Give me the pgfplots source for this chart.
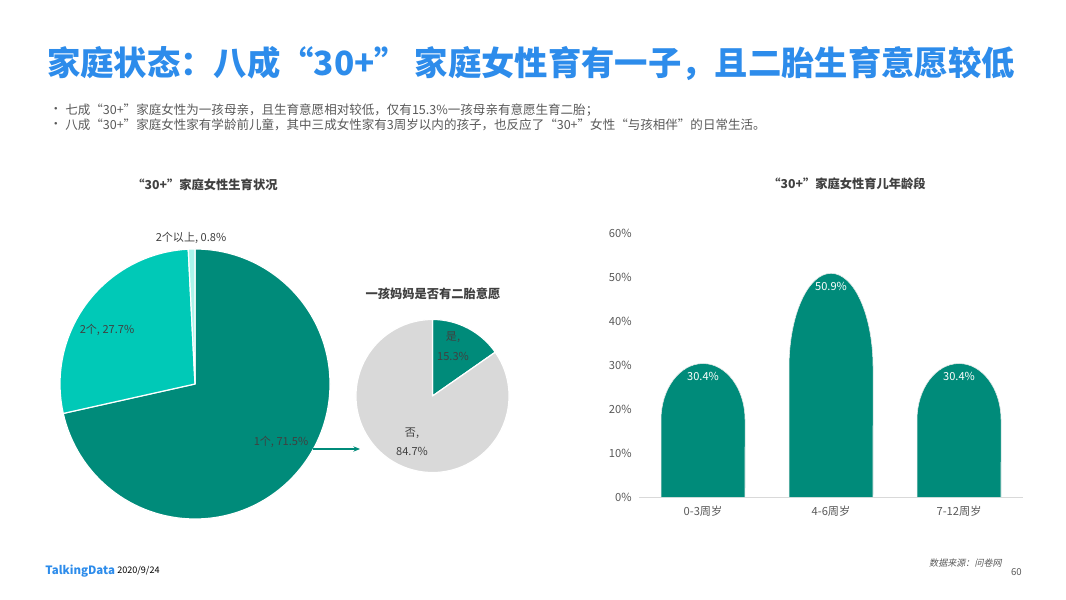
\documentclass[border=0pt]{standalone}
\usepackage{pgfplots}
\pgfplotsset{compat=1.18}
\usepackage{pgfplotstable}
\usepackage{fontspec}
\setmainfont{Noto Sans CJK SC}
\newfontfamily\cjkslant{Noto Sans CJK SC}[FakeSlant=0.2]
\usetikzlibrary{arrows.meta}
\definecolor{titleblue}{RGB}{45,140,235}
\definecolor{tealA}{RGB}{0,139,122}
\definecolor{tealB}{RGB}{0,201,183}
\definecolor{aquaC}{RGB}{170,245,235}
\definecolor{grayD}{RGB}{217,217,217}
\definecolor{txtgray}{RGB}{89,89,89}
\definecolor{dgray}{RGB}{64,64,64}
\definecolor{axgray}{RGB}{217,217,217}
\colorlet{pc1}{tealA}
\colorlet{pc2}{tealB}
\colorlet{pc3}{aquaC}
\colorlet{pc4}{grayD}

% pie tables: s = cumulative start (%), v = share (%), c = colour index
\pgfplotstableread{
s v c
0 71.5 1
71.5 27.7 2
99.2 0.8 3
}\mainpie
\pgfplotstableread{
s v c
0 15.3 1
15.3 84.7 4
}\smallpie
\pgfplotstableread{
x y
0 30.4
1 50.9
2 30.4
}\agedata

% draw pie slices of table #1 with radius #2 (pt) and rows 0..#3
\newcommand\drawpie[3]{%
  \pgfplotsforeachungrouped \i in {0,...,#3}{%
    \pgfplotstablegetelem{\i}{s}\of#1\let\pS\pgfplotsretval
    \pgfplotstablegetelem{\i}{v}\of#1\let\pV\pgfplotsretval
    \pgfplotstablegetelem{\i}{c}\of#1\let\pC\pgfplotsretval
    \pgfmathsetmacro\pA{90-3.6*\pS}%
    \pgfmathsetmacro\pD{-3.6*\pV}%
    \edef\temp{\noexpand\fill[fill=pc\pC, draw=white, line width=0.9pt, line join=round]
      (axis cs:0,0) -- ++(\pA:#2pt) arc[start angle=\pA, delta angle=\pD, radius=#2pt] -- cycle;}%
    \temp
  }%
}

\pgfplotsset{
  pieaxis/.style={
    hide axis, clip=false, x=0.75pt, y=0.75pt,
    xmin=-1, xmax=1, ymin=-1, ymax=1, anchor=center,
  },
}

\begin{document}
\begin{tikzpicture}[x=0.75pt, y=0.75pt]
\fill[white] (0,0) rectangle (1066,599);

% title
\node[anchor=west, inner sep=0, text=titleblue, font=\fontsize{25pt}{28pt}\selectfont\bfseries]
  at (47,535) {家庭状态：八成“30+”\hspace{0.2em}家庭女性育有一子，且二胎生育意愿较低};
% bullets
\node[anchor=center, inner sep=0, text=txtgray, font=\fontsize{9.4pt}{11pt}\selectfont] at (56,489) {•};
\node[anchor=west, inner sep=0, text=txtgray, font=\fontsize{9.4pt}{11pt}\selectfont] at (65,489)
  {七成“30+”家庭女性为一孩母亲，且生育意愿相对较低，仅有15.3\%一孩母亲有意愿生育二胎；};
\node[anchor=center, inner sep=0, text=txtgray, font=\fontsize{9.4pt}{11pt}\selectfont] at (56,474) {•};
\node[anchor=west, inner sep=0, text=txtgray, font=\fontsize{9.4pt}{11pt}\selectfont] at (65,474)
  {八成“30+”家庭女性家有学龄前儿童，其中三成女性家有3周岁以内的孩子，也反应了“30+”女性“与孩相伴”的日常生活。};

% chart titles
\node[text=dgray, font=\fontsize{9.2pt}{11pt}\selectfont\bfseries] at (205,414) {“30+”家庭女性生育状况};
\node[text=dgray, font=\fontsize{9.2pt}{11pt}\selectfont\bfseries] at (433,305) {一孩妈妈是否有二胎意愿};
\node[text=dgray, font=\fontsize{9.2pt}{11pt}\selectfont\bfseries] at (847,415) {“30+”家庭女性育儿年龄段};

% main pie
\begin{axis}[pieaxis, at={(146.25pt,161.25pt)}]
\drawpie{\mainpie}{101.25}{2}
\end{axis}
% small pie
\begin{axis}[pieaxis, at={(324.375pt,152.25pt)}]
\drawpie{\smallpie}{57.4}{1}
\end{axis}

% pie labels
\begin{scope}[font=\fontsize{8.3pt}{10pt}\selectfont, text=dgray]
\node at (191,361) {2个以上, 0.8\%};
\node at (107,269) {2个, 27.7\%};
\node at (281,157) {1个, 71.5\%};
\node at (453,262) {是,};
\node at (453,243) {15.3\%};
\node at (412,166) {否,};
\node at (412,148) {84.7\%};
\end{scope}
\draw[tealA, line width=0.8pt, -{Stealth[length=5pt,width=4pt]}] (313,150) -- (360,150);

% bar chart
\begin{axis}[
  at={(479.25pt,76.275pt)}, anchor=south west,
  x=96pt, y=3.3pt,
  xmin=-0.5, xmax=2.5, ymin=0, ymax=60,
  clip=false,
  separate axis lines,
  axis x line*=bottom, axis y line*=left,
  x axis line style={draw=axgray, line width=0.8pt, -},
  y axis line style={draw=none},
  major tick length=0pt,
  xtick={0,1,2}, xticklabels={0-3周岁,4-6周岁,7-12周岁},
  ytick={0,10,20,30,40,50,60},
  yticklabel={\pgfmathprintnumber{\tick}\%},
  /pgf/number format/assume math mode=true,
  tick label style={font=\fontsize{8.4pt}{10pt}\selectfont, text=txtgray},
  xticklabel style={yshift=-3pt},
  yticklabel style={xshift=-2pt},
]
% arch-topped bars from the table
\pgfplotsforeachungrouped \i in {0,1,2}{%
  \pgfplotstablegetelem{\i}{x}\of\agedata\let\bX\pgfplotsretval
  \pgfplotstablegetelem{\i}{y}\of\agedata\let\bY\pgfplotsretval
  \pgfmathsetmacro\bL{\bX-0.328}%
  \pgfmathsetmacro\bR{\bX+0.328}%
  \pgfmathsetmacro\bS{0.58*\bY}%
  \pgfmathsetmacro\bE{0.42*\bY*3.3}%
  \edef\temp{\noexpand\fill[fill=tealA, draw=white!85!gray, line width=0.4pt]
    (axis cs:\bL,0) -- (axis cs:\bL,\bS) arc[start angle=180, end angle=0, x radius=31.5pt, y radius=\bE pt]
    -- (axis cs:\bR,0) -- cycle;}%
  \temp
}
\addplot[
  only marks, mark=*, mark size=0pt,
  mark options={draw=none, fill=none},
  point meta=explicit,
  nodes near coords={\pgfmathprintnumber[fixed,fixed zerofill,precision=1]{\pgfplotspointmeta}\%},
  every node near coord/.append style={anchor=center, yshift=-9.75pt, text=white,
    font=\fontsize{8.3pt}{10pt}\selectfont},
] table[meta=y] {\agedata};
\end{axis}

% footer
\node[anchor=west, inner sep=0, text=titleblue, font=\fontsize{8.6pt}{10pt}\selectfont\bfseries] at (45,28) {TalkingData};
\node[anchor=west, inner sep=0, text=black, font=\fontsize{6.8pt}{8pt}\selectfont] at (117,28) {2020/9/24};
\node[anchor=east, inner sep=0, text=txtgray, font=\fontsize{6.8pt}{8pt}\cjkslant] at (1002,36) {数据来源：问卷网};
\node[anchor=east, inner sep=0, text=txtgray, font=\fontsize{7.2pt}{8pt}\selectfont] at (1022,27) {60};
\end{tikzpicture}
\end{document}
